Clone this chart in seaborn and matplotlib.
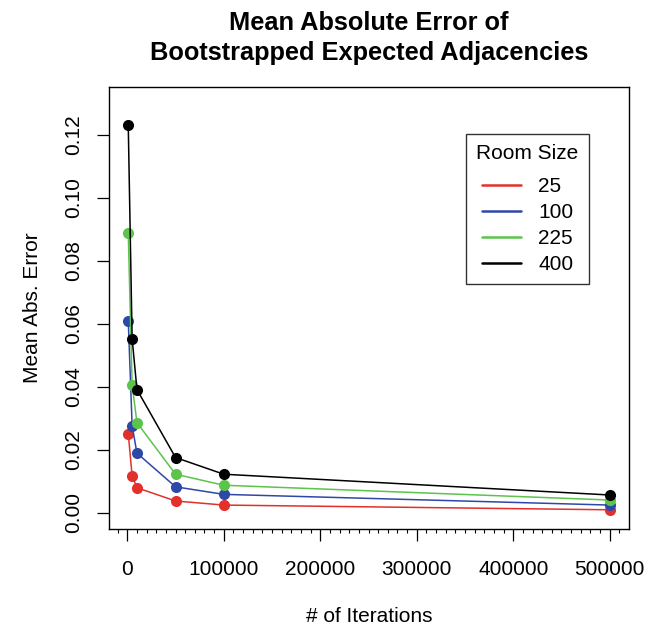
import matplotlib
import pandas as pd
import seaborn as sns
import matplotlib.pyplot as plt
from matplotlib.lines import Line2D
from matplotlib.ticker import MultipleLocator

# values
iterations = [1000, 5000, 10000, 50000, 100000, 500000]
room_sizes = ["25", "100", "225", "400"]
mae_25 = [0.0251, 0.0117, 0.0079, 0.0037, 0.0024, 0.0009]
mae_100 = [0.0610, 0.0276, 0.0189, 0.0082, 0.0058, 0.0024]
mae_225 = [0.0887, 0.0406, 0.0286, 0.0122, 0.0087, 0.0040]
mae_400 = [0.1230, 0.0553, 0.0391, 0.0175, 0.0122, 0.0056]
colors = ["#E3302A", "#2E48A8", "#5CC44B", "#000000"]

if __name__ == '__main__':
    rows = []
    for size, vals in zip(room_sizes, [mae_25, mae_100, mae_225, mae_400]):
        for it, v in zip(iterations, vals):
            rows.append({'Iterations': it, 'MAE': v, 'Room Size': size})
    data = pd.DataFrame(rows)

    sns.set_style("ticks")
    plt.rcParams['font.family'] = ['Liberation Sans', 'DejaVu Sans']
    plt.rcParams['text.color'] = 'black'
    plt.rcParams['axes.labelcolor'] = 'black'
    plt.rcParams['xtick.color'] = 'black'
    plt.rcParams['ytick.color'] = 'black'

    fig = plt.figure(figsize=(6.55, 6.28), dpi=100)
    ax = fig.add_axes([109 / 655, 1 - 529 / 628, 520 / 655, 442 / 628])

    palette = dict(zip(room_sizes, colors))
    sns.lineplot(x='Iterations', y='MAE', hue='Room Size', data=data, palette=palette,
                 hue_order=room_sizes, marker='o', markersize=8, markeredgewidth=0,
                 linewidth=1.1, legend=False, ax=ax, estimator=None)

    ax.set_xlim(-18960, 519960)
    ax.set_ylim(-0.0052, 0.1352)
    ax.set_xticks([0, 100000, 200000, 300000, 400000, 500000])
    ax.xaxis.set_minor_locator(MultipleLocator(10000))
    ax.set_yticks([0.00, 0.02, 0.04, 0.06, 0.08, 0.10, 0.12])
    ax.set_yticklabels(["0.00", "0.02", "0.04", "0.06", "0.08", "0.10", "0.12"])
    ax.set_xticklabels(["0", "100000", "200000", "300000", "400000", "500000"])
    ax.tick_params(axis='both', which='major', direction='out', length=8.5, width=0.9,
                   labelsize=15, color='black', labelcolor='black')
    ax.tick_params(axis='x', which='major', pad=14)
    ax.tick_params(axis='y', which='major', pad=10, labelrotation=90)
    ax.tick_params(axis='x', which='minor', direction='out', length=3, width=0.8, color='black')
    for lab in ax.get_yticklabels():
        lab.set_va('center')
    for sp in ax.spines.values():
        sp.set_visible(True)
        sp.set_linewidth(1.0)
        sp.set_color('black')

    ax.set_xlabel('# of Iterations', fontsize=15, labelpad=20, color='black')
    ax.set_ylabel('Mean Abs. Error', fontsize=15, labelpad=16, color='black')

    handles = [Line2D([0], [0], color=c, lw=1.8) for c in colors]
    leg = ax.legend(handles, room_sizes, title='Room Size', loc='upper left',
                    bbox_to_anchor=((466 - 109) / 520, 1 - (134 - 87) / 442),
                    fontsize=15, title_fontsize=15, frameon=True, fancybox=False,
                    handlelength=1.9, handletextpad=0.8, labelspacing=0.33,
                    borderpad=0.5, borderaxespad=0)
    leg._legend_box.sep = 10
    leg.get_frame().set_edgecolor('black')
    leg.get_frame().set_linewidth(1.0)
    for t in leg.get_texts():
        t.set_color('black')

    fig.text(369 / 655, 1 - 38 / 628, 'Mean Absolute Error of\nBootstrapped Expected Adjacencies',
             ha='center', va='center', fontsize=18.3, fontweight='bold', linespacing=1.33,
             color='black')

    fig.savefig('out.png', dpi=100)
